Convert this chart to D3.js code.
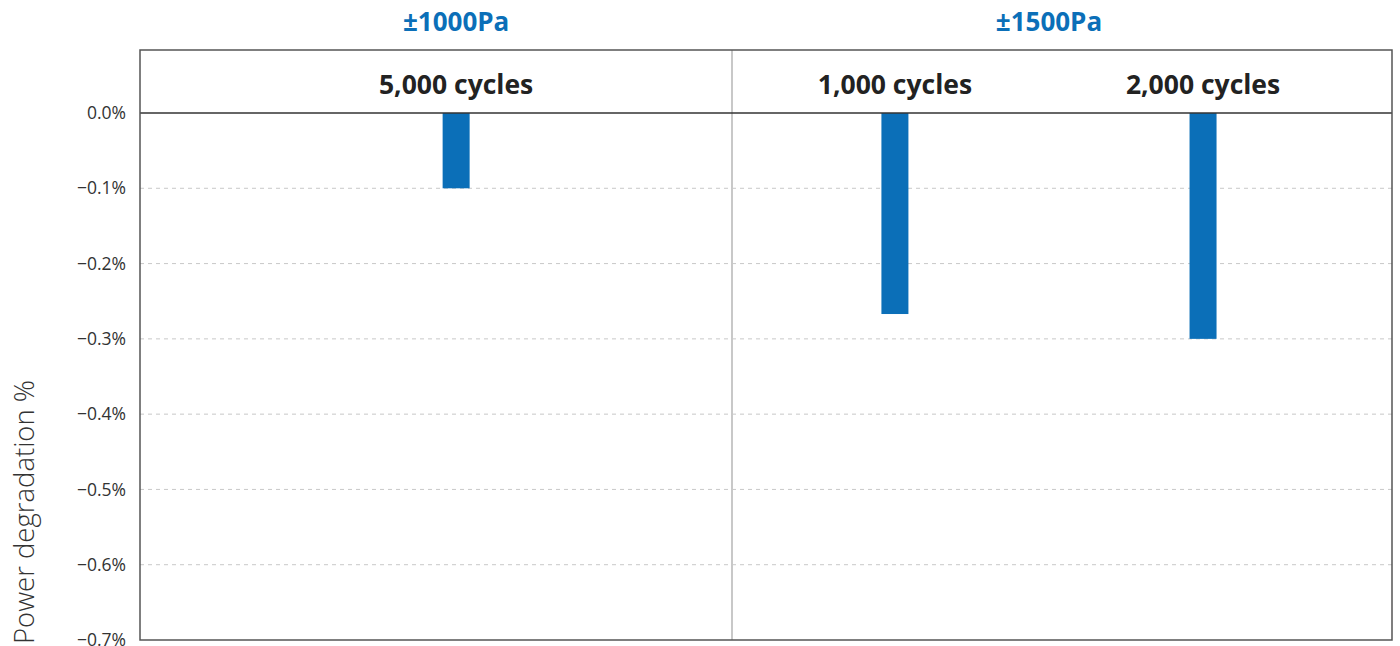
<!DOCTYPE html>
<html>
<head>
  <meta charset="UTF-8">
  <title>power degradation</title>
  <style>
    body { margin: 0; background: #fff; font-family: "Open Sans", "Noto Sans", sans-serif; }
  </style>
</head>
<body>
  <div class="svg-zone"></div>
  <script src="https://cdn.jsdelivr.net/npm/d3@7"></script>
  <script>
  // data
  var groups = ["±1000Pa", "±1500Pa"];
  var categories = ["5,000 cycles", "1,000 cycles", "2,000 cycles"];
  var categoryGroup = ["±1000Pa", "±1500Pa", "±1500Pa"];
  var values = [-0.10, -0.267, -0.30];
  var yTicks = [0, -0.1, -0.2, -0.3, -0.4, -0.5, -0.6, -0.7];

  var width = 1400, height = 646;
  var plotLeft = 140, plotRight = 1392, plotTop = 50, plotBottom = 640;
  var splitX = 732;
  // where each group sits and how its points are aligned inside it
  var groupLayout = {
    "±1000Pa": { x0: plotLeft, x1: splitX, align: 0.534 },
    "±1500Pa": { x0: splitX, x1: plotRight, align: 0.463, padding: 0.571 }
  };

  var svg = d3.select(".svg-zone").append("svg")
    .attr("width", width)
    .attr("height", height);

  var y = d3.scaleLinear()
    .domain([0.0837, -0.7])
    .range([plotTop, plotBottom]);

  // one point scale per group
  var xGroup = {};
  groups.forEach(function (g) {
    var cats = categories.filter(function (c, i) { return categoryGroup[i] === g; });
    var l = groupLayout[g];
    xGroup[g] = d3.scalePoint()
      .domain(cats)
      .range([l.x0, l.x1])
      .padding(l.padding || 0.5)
      .align(l.align);
  });
  function xPos(c) {
    return xGroup[categoryGroup[categories.indexOf(c)]](c);
  }

  var barWidth = 27;

  // grid lines
  svg.append("g")
    .selectAll("line")
    .data(yTicks.filter(function (t) { return t !== 0 && t !== -0.7; }))
    .enter().append("line")
    .attr("x1", plotLeft).attr("x2", plotRight)
    .attr("y1", function (d) { return y(d); })
    .attr("y2", function (d) { return y(d); })
    .attr("stroke", "#c8c8c8")
    .attr("stroke-width", 1)
    .attr("stroke-dasharray", "4,4");

  // group divider
  svg.append("line")
    .attr("x1", splitX).attr("x2", splitX)
    .attr("y1", plotTop).attr("y2", plotBottom)
    .attr("stroke", "#c8c8c8")
    .attr("stroke-width", 2);

  // bars
  var data = categories.map(function (c, i) { return { cat: c, value: values[i] }; });
  svg.append("g")
    .selectAll(".bar")
    .data(data)
    .enter().append("rect")
    .attr("class", "bar")
    .attr("x", function (d) { return xPos(d.cat) - barWidth / 2; })
    .attr("y", y(0))
    .attr("width", barWidth)
    .attr("height", function (d) { return y(d.value) - y(0); })
    .attr("fill", "#0b6fb8");

  // zero line
  svg.append("line")
    .attr("x1", plotLeft).attr("x2", plotRight)
    .attr("y1", y(0)).attr("y2", y(0))
    .attr("stroke", "#333")
    .attr("stroke-width", 1.5);

  // frame
  svg.append("rect")
    .attr("x", plotLeft).attr("y", plotTop)
    .attr("width", plotRight - plotLeft).attr("height", plotBottom - plotTop)
    .attr("fill", "none")
    .attr("stroke", "#555")
    .attr("stroke-width", 1.5);

  // y axis labels (values are already in percent)
  var yAxis = d3.axisLeft(y)
    .tickValues(yTicks)
    .tickSize(0)
    .tickPadding(14)
    .tickFormat(function (d) { return d3.format(".1f")(d) + "%"; });
  var ya = svg.append("g")
    .attr("transform", "translate(" + plotLeft + ",0)")
    .call(yAxis);
  ya.select(".domain").remove();
  ya.selectAll("text")
    .attr("font-family", "'Open Sans', sans-serif")
    .attr("font-size", 17.5)
    .attr("fill", "#333");

  // y title
  svg.append("text")
    .attr("transform", "translate(34,512) rotate(-90)")
    .attr("text-anchor", "middle")
    .attr("font-family", "'Open Sans', sans-serif")
    .attr("font-weight", 300)
    .attr("font-size", 27.5)
    .attr("fill", "#333")
    .text("Power degradation %");

  // category labels
  svg.append("g")
    .selectAll("text")
    .data(categories)
    .enter().append("text")
    .attr("x", function (d) { return xPos(d); })
    .attr("y", 94)
    .attr("text-anchor", "middle")
    .attr("font-family", "'Open Sans', sans-serif")
    .attr("font-weight", 700)
    .attr("font-size", 26.5)
    .attr("fill", "#222")
    .text(function (d) { return d; });

  // group headers, centred over their bars
  svg.append("g")
    .selectAll("text")
    .data(groups)
    .enter().append("text")
    .attr("x", function (g) {
      var xs = categories.filter(function (c, i) { return categoryGroup[i] === g; }).map(xPos);
      return d3.mean(xs);
    })
    .attr("y", 31)
    .attr("text-anchor", "middle")
    .attr("font-family", "'Open Sans', sans-serif")
    .attr("font-weight", 700)
    .attr("font-size", 26)
    .attr("fill", "#0b6fb8")
    .text(function (d) { return d; });
  </script>
</body>
</html>
